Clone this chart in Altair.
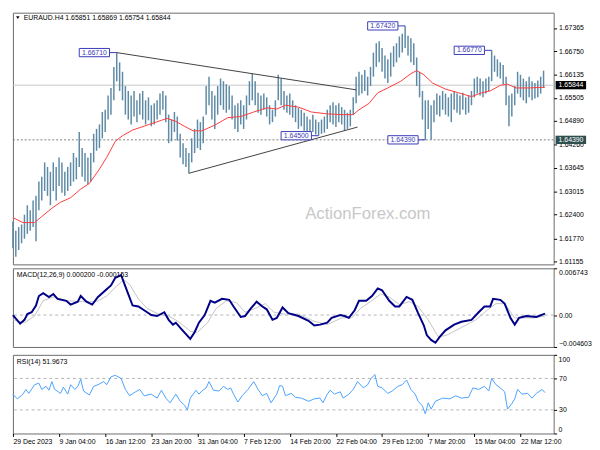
import json
import altair as alt
import pandas as pd

FONT = "Liberation Sans"
W, HM, HD, HR = 550, 256, 80, 80
XMAX = 375

# ---------------- data ----------------
TITLE = "EURAUD.H4  1.65851 1.65869 1.65754 1.65844"
MACD_TITLE = "MACD(12,26,9) 0.000200 -0.000153"
RSI_TITLE = "RSI(14) 51.9673"
WATERMARK = "ActionForex.com"

PRICE_TICKS = [1.61155, 1.61770, 1.62400, 1.63015, 1.63645, 1.64260,
               1.64890, 1.65505, 1.66135, 1.66750, 1.67365]
RSI_TICKS = [0, 30, 70, 100]
XTICK_BAR = [0, 32, 64, 96, 128, 160, 192, 224, 256, 288, 320, 352]
XLABELS = ["29 Dec 2023", "9 Jan 04:00", "16 Jan 12:00", "23 Jan 20:00",
           "31 Jan 04:00", "7 Feb 12:00", "14 Feb 20:00", "22 Feb 04:00",
           "29 Feb 12:00", "7 Mar 20:00", "15 Mar 04:00", "22 Mar 12:00"]

# H4 bars, high / low (every second bar)
HIGH = [1.6222, 1.6197, 1.6207, 1.6214, 1.6240, 1.6265, 1.6252, 1.6278, 1.6290, 1.6328,
        1.6341, 1.6379, 1.6367, 1.6354, 1.6379, 1.6367, 1.6392, 1.6379, 1.6354, 1.6367,
        1.6379, 1.6404, 1.6392, 1.6460, 1.6417, 1.6404, 1.6392, 1.6404, 1.6455, 1.6468,
        1.6480, 1.6513, 1.6519, 1.6557, 1.6577, 1.6633, 1.6671, 1.6645, 1.6620, 1.6582,
        1.6569, 1.6557, 1.6569, 1.6544, 1.6562, 1.6569, 1.6544, 1.6552, 1.6531, 1.6536,
        1.6544, 1.6562, 1.6569, 1.6557, 1.6506, 1.6493, 1.6513, 1.6501, 1.6455, 1.6430,
        1.6417, 1.6404, 1.6443, 1.6468, 1.6493, 1.6486, 1.6501, 1.6582, 1.6607, 1.6569,
        1.6557, 1.6582, 1.6602, 1.6595, 1.6587, 1.6582, 1.6557, 1.6531, 1.6536, 1.6544,
        1.6531, 1.6557, 1.6595, 1.6615, 1.6595, 1.6564, 1.6557, 1.6562, 1.6552, 1.6531,
        1.6519, 1.6544, 1.6612, 1.6602, 1.6569, 1.6557, 1.6562, 1.6544, 1.6531, 1.6524,
        1.6519, 1.6511, 1.6501, 1.6493, 1.6506, 1.6493, 1.6486, 1.6493, 1.6501, 1.6519,
        1.6531, 1.6539, 1.6531, 1.6536, 1.6526, 1.6519, 1.6511, 1.6519, 1.6552, 1.6607,
        1.6620, 1.6612, 1.6625, 1.6607, 1.6633, 1.6671, 1.6696, 1.6701, 1.6683, 1.6663,
        1.6653, 1.6671, 1.6688, 1.6696, 1.6714, 1.6721, 1.6742, 1.6716, 1.6709, 1.6696,
        1.6658, 1.6620, 1.6569, 1.6544, 1.6544, 1.6531, 1.6544, 1.6562, 1.6557, 1.6569,
        1.6562, 1.6552, 1.6562, 1.6569, 1.6562, 1.6557, 1.6564, 1.6552, 1.6557, 1.6569,
        1.6602, 1.6607, 1.6602, 1.6595, 1.6602, 1.6607, 1.6677, 1.6663, 1.6653, 1.6645,
        1.6638, 1.6607, 1.6557, 1.6562, 1.6582, 1.6620, 1.6612, 1.6602, 1.6595, 1.6607,
        1.6595, 1.6590, 1.6597, 1.6607, 1.6623]
LOW = [1.6151, 1.6128, 1.6146, 1.6164, 1.6176, 1.6189, 1.6197, 1.6207, 1.6169, 1.6252,
       1.6278, 1.6303, 1.6290, 1.6265, 1.6303, 1.6278, 1.6316, 1.6298, 1.6290, 1.6303,
       1.6316, 1.6328, 1.6334, 1.6367, 1.6341, 1.6328, 1.6321, 1.6328, 1.6379, 1.6410,
       1.6417, 1.6443, 1.6460, 1.6493, 1.6506, 1.6544, 1.6595, 1.6569, 1.6544, 1.6506,
       1.6493, 1.6480, 1.6501, 1.6486, 1.6506, 1.6493, 1.6480, 1.6491, 1.6475, 1.6480,
       1.6493, 1.6506, 1.6519, 1.6486, 1.6430, 1.6435, 1.6460, 1.6437, 1.6392, 1.6374,
       1.6367, 1.6350, 1.6379, 1.6404, 1.6417, 1.6412, 1.6430, 1.6506, 1.6531, 1.6493,
       1.6468, 1.6506, 1.6531, 1.6519, 1.6511, 1.6519, 1.6493, 1.6468, 1.6460, 1.6480,
       1.6468, 1.6493, 1.6531, 1.6544, 1.6531, 1.6511, 1.6506, 1.6519, 1.6501, 1.6480,
       1.6486, 1.6501, 1.6544, 1.6531, 1.6519, 1.6511, 1.6506, 1.6498, 1.6486, 1.6468,
       1.6475, 1.6463, 1.6455, 1.6452, 1.6460, 1.6453, 1.6450, 1.6455, 1.6458, 1.6468,
       1.6486, 1.6480, 1.6473, 1.6486, 1.6480, 1.6463, 1.6468, 1.6475, 1.6506, 1.6536,
       1.6557, 1.6562, 1.6569, 1.6557, 1.6582, 1.6607, 1.6633, 1.6645, 1.6620, 1.6602,
       1.6590, 1.6607, 1.6633, 1.6645, 1.6658, 1.6671, 1.6683, 1.6663, 1.6645, 1.6638,
       1.6582, 1.6552, 1.6493, 1.6439, 1.6468, 1.6440, 1.6486, 1.6506, 1.6501, 1.6519,
       1.6506, 1.6501, 1.6486, 1.6519, 1.6511, 1.6506, 1.6519, 1.6506, 1.6511, 1.6531,
       1.6552, 1.6562, 1.6557, 1.6552, 1.6562, 1.6569, 1.6595, 1.6620, 1.6607, 1.6602,
       1.6587, 1.6531, 1.6475, 1.6501, 1.6531, 1.6562, 1.6552, 1.6544, 1.6536, 1.6552,
       1.6544, 1.6549, 1.6552, 1.6562, 1.6577]
BAR = list(range(0, 2 * len(HIGH), 2))

# moving average (red)
MA_BAR = [0, 7, 15, 20, 27, 33, 40, 47, 53, 60, 65, 71, 76, 83, 93, 103, 107, 113, 119,
          125, 131, 140, 149, 158, 167, 176, 183, 189, 198, 207, 218, 229, 236, 240, 247,
          253, 260, 269, 276, 280, 285, 291, 300, 309, 318, 325, 331, 338, 343, 349, 358, 369]
MA_VAL = [1.6232, 1.6219, 1.6219, 1.6235, 1.6257, 1.6273, 1.6285, 1.6308, 1.6323, 1.6361,
          1.6392, 1.6435, 1.6450, 1.6465, 1.6478, 1.6491, 1.6496, 1.6488, 1.6475, 1.6463,
          1.6463, 1.6478, 1.6498, 1.6501, 1.6513, 1.6524, 1.6521, 1.6531, 1.6526, 1.6513,
          1.6508, 1.6506, 1.6506, 1.6519, 1.6536, 1.6564, 1.6577, 1.6595, 1.6615, 1.6623,
          1.6612, 1.6590, 1.6574, 1.6564, 1.6554, 1.6564, 1.6569, 1.6584, 1.6587, 1.6577,
          1.6577, 1.6579]

# triangle trend lines
TREND_ID = ["upper", "upper", "lower", "lower"]
TREND_BAR = [72, 238, 122, 239]
TREND_VAL = [1.6671, 1.6572, 1.6350, 1.6473]

# swing labels
LBL_BAR = [72, 272, 332, 212, 286]
LBL_VAL = [1.6671, 1.6742, 1.6677, 1.6450, 1.6439]
LBL_TEXT = ["1.66710", "1.67420", "1.66770", "1.64500", "1.64390"]

# right-axis price tags
TAG_VAL = [1.65844, 1.64390]
TAG_TEXT = ["1.65844", "1.64390"]
TAG_COLOR = ["#000000", "#2f4f4f"]

# MACD
MACD_BAR = [0, 5, 8, 10, 13, 16, 18, 21, 25, 28, 31, 37, 40, 45, 47, 51, 55, 59, 65, 68,
            71, 75, 77, 80, 83, 87, 91, 96, 100, 105, 108, 111, 113, 117, 120, 123, 126,
            129, 133, 137, 140, 145, 150, 153, 158, 161, 165, 169, 173, 176, 180, 183, 187,
            191, 198, 205, 209, 213, 218, 221, 227, 230, 233, 237, 240, 245, 249, 253, 256,
            261, 265, 268, 273, 277, 281, 285, 287, 290, 293, 296, 300, 306, 311, 318, 323,
            327, 331, 333, 338, 341, 345, 348, 351, 356, 363, 369]
MACD_VAL = [0.0, -0.00124, -0.00069, 0.00014, 0.00041, 0.00138, 0.00275, 0.00317, 0.00261,
            0.00303, 0.00234, 0.00206, 0.00151, 0.00193, 0.00275, 0.00193, 0.00151, 0.00261,
            0.00372, 0.00427, 0.00537, 0.00578, 0.00468, 0.00303, 0.00138, 0.00124, 0.00069,
            0.0, -0.00014, 0.00041, -0.00069, -0.00138, -0.00110, -0.00206, -0.00275,
            -0.00344, -0.00248, -0.00110, 0.0, 0.00206, 0.00179, 0.00234, 0.00220, 0.00124,
            -0.00028, -0.00014, 0.00096, 0.00193, 0.00124, 0.00083, -0.00069, -0.00041,
            0.00110, 0.00028, -0.00014, -0.00083, -0.00151, -0.00138, -0.00110, -0.00041,
            0.0, -0.00014, -0.00041, 0.00069, 0.00206, 0.00206, 0.00275, 0.00385, 0.00358,
            0.00206, 0.00124, 0.00124, 0.00261, 0.00220, 0.00028, -0.00151, -0.00289,
            -0.00358, -0.00399, -0.00316, -0.00220, -0.00138, -0.00096, -0.00069, 0.00041,
            0.00124, 0.00124, 0.00234, 0.00220, 0.00165, -0.00041, -0.00138, -0.00041,
            -0.00014, -0.00028, 0.00020]
SIG_BAR = [0, 8, 15, 21, 28, 38, 48, 58, 65, 71, 77, 81, 87, 93, 101, 108, 115, 123, 128,
           135, 141, 148, 155, 161, 168, 175, 181, 188, 198, 208, 218, 228, 235, 241, 248,
           255, 261, 268, 275, 281, 288, 295, 301, 311, 321, 328, 335, 341, 348, 355, 361, 369]
SIG_VAL = [-0.00069, -0.00110, -0.00014, 0.00206, 0.00261, 0.00206, 0.00193, 0.00193,
           0.00275, 0.00399, 0.00509, 0.00440, 0.00234, 0.00096, 0.00014, -0.00014,
           -0.00096, -0.00234, -0.00248, -0.00110, 0.00096, 0.00206, 0.00179, 0.00041,
           0.00096, 0.00165, 0.00041, 0.00014, 0.00014, -0.00083, -0.00138, -0.00041,
           -0.00041, 0.00096, 0.00193, 0.00303, 0.00261, 0.00151, 0.00193, 0.00124,
           -0.00069, -0.00316, -0.00289, -0.00179, -0.00069, 0.00055, 0.00165, 0.00165,
           -0.00041, -0.00041, -0.00041, -0.00015]

# RSI
RSI_BAR = [0, 3, 7, 9, 11, 15, 18, 20, 23, 25, 27, 29, 33, 35, 38, 40, 43, 45, 47, 49, 53,
           56, 59, 63, 65, 68, 71, 75, 78, 81, 85, 88, 91, 96, 100, 103, 106, 109, 113, 116,
           119, 121, 123, 127, 129, 131, 134, 136, 139, 143, 146, 149, 151, 153, 156, 159,
           163, 167, 170, 173, 176, 179, 183, 185, 187, 189, 193, 196, 200, 205, 209, 213,
           215, 218, 220, 223, 227, 229, 233, 236, 239, 243, 246, 248, 251, 253, 256, 260,
           263, 267, 270, 273, 276, 279, 281, 284, 286, 288, 290, 293, 298, 303, 307, 311,
           316, 319, 323, 327, 330, 332, 335, 338, 341, 343, 346, 348, 350, 353, 357, 360,
           363, 367, 369]
RSI_VAL = [50, 44, 50, 56, 51, 62, 64, 56, 60, 55, 66, 56, 51, 59, 50, 62, 56, 60, 69, 54,
           49, 60, 62, 66, 62, 72, 74, 70, 56, 48, 53, 56, 48, 50, 45, 55, 45, 39, 50, 41,
           36, 30, 45, 55, 50, 54, 58, 66, 55, 54, 60, 56, 58, 50, 40, 48, 56, 66, 56, 48,
           51, 39, 50, 61, 60, 48, 51, 46, 45, 41, 44, 45, 39, 50, 55, 50, 53, 45, 50, 56,
           66, 58, 62, 69, 75, 60, 58, 51, 54, 60, 62, 68, 56, 50, 41, 35, 25, 39, 31, 41,
           45, 44, 48, 45, 46, 58, 56, 60, 54, 70, 62, 58, 53, 31, 38, 44, 56, 50, 51, 45,
           51, 56, 51.97]

# ---------------- styles ----------------
BAR_COLOR = "#5e8aa6"
MA_COLOR = "#ff3a3a"
LBL_COLOR = "#3a3ab8"
MACD_COLOR = "#000088"
SIG_COLOR = "#c4c4c4"
RSI_COLOR = "#4aa2ff"
GRID_DASH = "#b4b4b4"

xs = alt.Scale(domain=[0, XMAX], nice=False, zero=False)
ys_p = alt.Scale(domain=[1.61078, 1.67771], nice=False, zero=False)
ys_m = alt.Scale(domain=[-0.004603, 0.006743], nice=False, zero=False)
ys_r = alt.Scale(domain=[0, 100], nice=False, zero=False)

price_axis = alt.Axis(orient="right", values=PRICE_TICKS, format=".5f", title=None,
                      grid=False, domain=False, tickSize=3, labelPadding=2,
                      labelOverlap=False)
macd_axis = alt.Axis(orient="right", values=[-0.004603, 0, 0.006743], title=None,
                     labelExpr="datum.value == 0 ? '0.00' : format(datum.value, '.6f')",
                     labelFlush=True, labelOverlap=False, grid=False, domain=False,
                     tickSize=3, labelPadding=2)
rsi_axis = alt.Axis(orient="right", values=RSI_TICKS, title=None,
                    labelExpr="datum.value == 0 || datum.value == 100 ? '' : format(datum.value, 'd')",
                    labelOverlap=False, grid=False, domain=False, tickSize=3, labelPadding=2)


def xq(f):
    return alt.X(f"{f}:Q", scale=xs, axis=None)


def yp(f):
    return alt.Y(f"{f}:Q", scale=ys_p, axis=price_axis)


def ym(f):
    return alt.Y(f"{f}:Q", scale=ys_m, axis=macd_axis)


def yr(f):
    return alt.Y(f"{f}:Q", scale=ys_r, axis=rsi_axis)


def note(text, x, y, size=7, color="black", align="left", baseline="middle"):
    return alt.Chart(pd.DataFrame({"t": [text]})).mark_text(
        align=align, baseline=baseline, font=FONT, fontSize=size, color=color
    ).encode(x=alt.value(x), y=alt.value(y), text="t:N")


# ---------------- main panel ----------------
cur_line = alt.Chart(pd.DataFrame({"p": [TAG_VAL[0]]})).mark_rule(
    color="#c8c8c8", strokeWidth=1).encode(y=yp("p"))
sup_line = alt.Chart(pd.DataFrame({"p": [TAG_VAL[1]]})).mark_rule(
    color="#808080", strokeWidth=1, strokeDash=[2, 2]).encode(y=yp("p"))

bars = alt.Chart(pd.DataFrame({"i": BAR, "hi": HIGH, "lo": LOW})).mark_rule(
    color=BAR_COLOR, strokeWidth=1.5).encode(x=xq("i"), y=yp("lo"), y2="hi:Q")

ma = alt.Chart(pd.DataFrame({"i": MA_BAR, "v": MA_VAL})).mark_line(
    color=MA_COLOR, strokeWidth=1).encode(x=xq("i"), y=yp("v"))

trend = alt.Chart(pd.DataFrame({"g": TREND_ID, "i": TREND_BAR, "v": TREND_VAL})).mark_line(
    color="#404040", strokeWidth=1).encode(x=xq("i"), y=yp("v"), detail="g:N")

lbl = alt.Chart(pd.DataFrame({"i": LBL_BAR, "p": LBL_VAL, "t": LBL_TEXT})).transform_calculate(
    bx1="datum.i - 26", bx2="datum.i - 5", bxc="datum.i - 15.5",
    by1="datum.p - 0.0011", by2="datum.p + 0.0011")
lbl_conn = lbl.mark_rule(color=LBL_COLOR, strokeWidth=1).encode(
    x=xq("bx2"), x2="i:Q", y=yp("p"))
lbl_box = lbl.mark_rect(fill="white", stroke=LBL_COLOR, strokeWidth=1).encode(
    x=xq("bx1"), x2="bx2:Q", y=yp("by1"), y2="by2:Q")
lbl_txt = lbl.mark_text(color=LBL_COLOR, font=FONT, fontSize=7).encode(
    x=xq("bxc"), y=yp("p"), text="t:N")

tag = alt.Chart(pd.DataFrame({"p": TAG_VAL, "t": TAG_TEXT, "c": TAG_COLOR})).transform_calculate(
    y1="datum.p - 0.0011", y2="datum.p + 0.0011")
tag_rect = tag.mark_rect().encode(
    x=alt.value(W + 2), x2=alt.value(W + 33), y=yp("y1"), y2="y2:Q",
    color=alt.Color("c:N", scale=None))
tag_txt = tag.mark_text(align="left", baseline="middle", color="white", font=FONT,
                        fontSize=7).encode(x=alt.value(W + 5), y=yp("p"), text="t:N")

tri = alt.Chart(pd.DataFrame({"t": ["x"]})).mark_point(
    shape="triangle-down", filled=True, size=12, color="black", opacity=1).encode(
    x=alt.value(5), y=alt.value(5))

main = alt.layer(
    cur_line, sup_line, bars, ma, trend, lbl_conn, lbl_box, lbl_txt, tag_rect, tag_txt,
    tri, note(TITLE, 11, 5),
    note(WATERMARK, 361, 205, size=17, color="#c8c8c8", align="center"),
).properties(width=W, height=HM)

# ---------------- MACD panel ----------------
m_zero = alt.Chart(pd.DataFrame({"z": [0.0]})).mark_rule(
    color=GRID_DASH, strokeDash=[3, 3], strokeWidth=1).encode(y=ym("z"))
m_sig = alt.Chart(pd.DataFrame({"i": SIG_BAR, "v": SIG_VAL})).mark_line(
    color=SIG_COLOR, strokeWidth=1).encode(x=xq("i"), y=ym("v"))
m_line = alt.Chart(pd.DataFrame({"i": MACD_BAR, "v": MACD_VAL})).mark_line(
    color=MACD_COLOR, strokeWidth=2).encode(x=xq("i"), y=ym("v"))
macd = alt.layer(m_zero, m_sig, m_line, note(MACD_TITLE, 4, 7)).properties(width=W, height=HD)

# ---------------- RSI panel ----------------
x_axis = alt.Axis(values=XTICK_BAR, labelExpr=f"{json.dumps(XLABELS)}[round(datum.value / 32)]",
                  labelAlign="left", labelOverlap=False, labelFlush=False, tickSize=3,
                  labelPadding=1, domain=False, grid=False, title=None)
r_lvls = alt.Chart(pd.DataFrame({"z": [30, 70]})).mark_rule(
    color=GRID_DASH, strokeDash=[3, 3], strokeWidth=1).encode(y=yr("z"))
r_line = alt.Chart(pd.DataFrame({"i": RSI_BAR, "v": RSI_VAL})).mark_line(
    color=RSI_COLOR, strokeWidth=1).encode(
    x=alt.X("i:Q", scale=xs, axis=x_axis), y=yr("v"))
# end labels of the RSI scale (drawn flush with the panel edges)
r_top = note(str(RSI_TICKS[-1]), W + 5, 1, baseline="top")
r_bot = note(str(RSI_TICKS[0]), W + 5, HR - 1, baseline="bottom")
rsi = alt.layer(r_lvls, r_line, note(RSI_TITLE, 4, 7), r_top, r_bot).properties(
    width=W, height=HR)

chart = alt.vconcat(main, macd, rsi, spacing=2).properties(
    padding=0, background="white"
).configure_axis(
    labelFont=FONT, labelFontSize=7, labelColor="black", tickColor="black", tickWidth=1
).configure_view(stroke="#6a6a6a", strokeWidth=1)

chart.save("out.html", embed_options={"renderer": "svg", "actions": False})
